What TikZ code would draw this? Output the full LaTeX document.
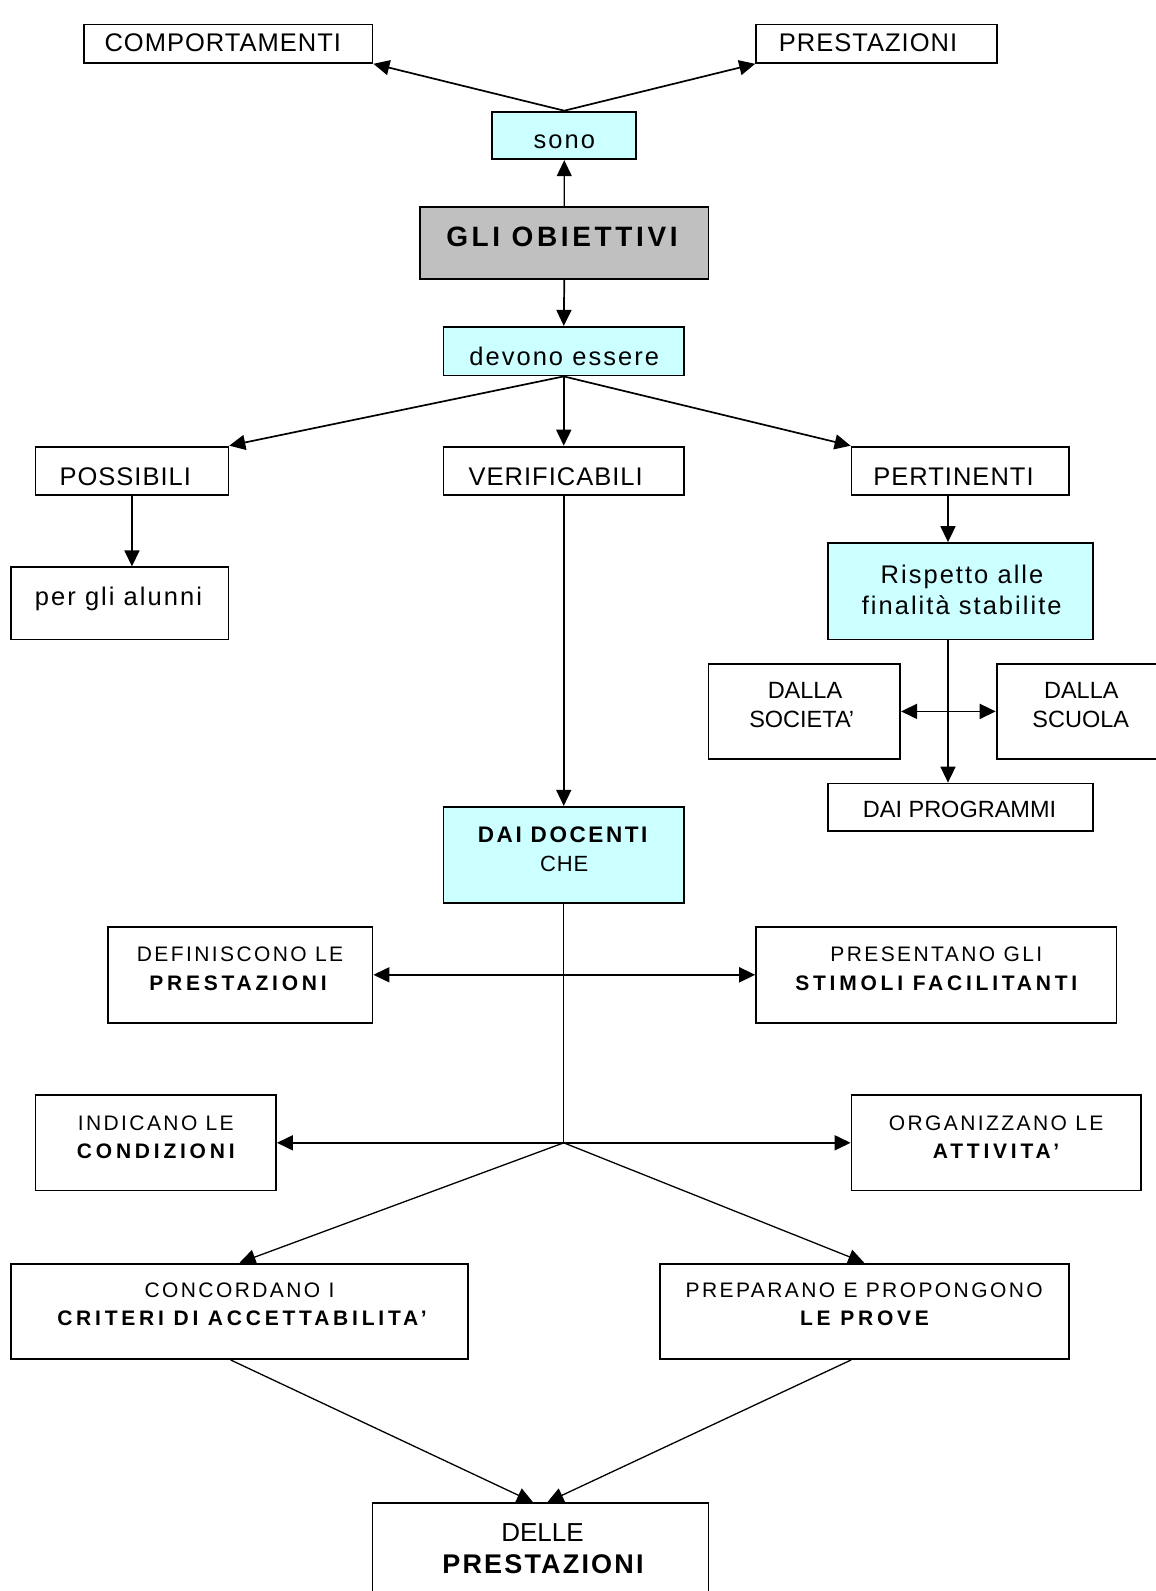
\documentclass[tikz,border=0pt]{standalone}
\usepackage{fontspec}
\setmainfont{Liberation Sans}
\newfontfamily\fcap[LetterSpace=4]{Liberation Sans}
\newfontfamily\flow[LetterSpace=8]{Liberation Sans}
\newfontfamily\fplain{Liberation Sans}
\newfontfamily\fsm[LetterSpace=11.5]{Liberation Sans}
\newfontfamily\fsmb[LetterSpace=18]{Liberation Sans}
\newfontfamily\fbig[LetterSpace=13]{Liberation Sans}
\usetikzlibrary{arrows.meta}
\definecolor{cyanbox}{HTML}{CCFFFF}
\definecolor{graybox}{HTML}{C0C0C0}
\begin{document}
\begin{tikzpicture}[x=1pt,y=-1pt,
  bx/.style={draw=black, line width=1.8pt, fill=white, inner sep=0pt},
  cybx/.style={bx, fill=cyanbox},
  grbx/.style={bx, fill=graybox},
  lbl/.style={anchor=base, inner sep=0pt},
  capA/.style={lbl, font=\fcap\fontsize{25.5}{30}\selectfont},
  lowA/.style={lbl, font=\flow\fontsize{25.5}{30}\selectfont},
  plainB/.style={lbl, font=\fplain\fontsize{23.5}{28}\selectfont},
  smR/.style={lbl, font=\fsm\fontsize{21}{25}\selectfont},
  smB/.style={lbl, font=\fsmb\bfseries\fontsize{21}{25}\selectfont},
  bigB/.style={lbl, font=\fbig\bfseries\fontsize{28}{32}\selectfont},
  docB/.style={lbl, font=\fsm\bfseries\fontsize{22.5}{26}\selectfont},
  docR/.style={lbl, font=\fcap\fontsize{22}{26}\selectfont},
  delR/.style={lbl, font=\fplain\fontsize{26}{30}\selectfont},
  delB/.style={lbl, font=\flow\bfseries\fontsize{27}{31}\selectfont},
  tipA/.tip={Triangle[length=16pt,width=15pt]},
  arr/.style={line width=1.7pt, -tipA},
  thinarr/.style={line width=1.3pt, -tipA},
  dblarr/.style={line width=1.7pt, tipA-tipA},
  trunk/.style={line width=1.3pt}
]
\useasboundingbox (0,0) rectangle (1156,1591);
\fill[white] (0,0) rectangle (1156,1591);
\clip (0,0) rectangle (1156,1591);

% boxes
\node[bx, minimum width=288.3pt, minimum height=38.5pt] (comp) at (228.35,43.65) {};
\node[bx, minimum width=240.5pt, minimum height=38.5pt] (prest) at (876.35,43.65) {};
\node[cybx, minimum width=144.1pt, minimum height=47.7pt] (sono) at (564.25,135.45) {};
\node[grbx, minimum width=288.2pt, minimum height=72.1pt] (gli) at (564.3,243.05) {};
\node[cybx, minimum width=240.5pt, minimum height=48.7pt] (dev) at (563.75,351.15) {};
\node[bx, minimum width=192.9pt, minimum height=48.7pt] (poss) at (131.95,470.95) {};
\node[bx, minimum width=240.5pt, minimum height=48.7pt] (ver) at (563.75,470.95) {};
\node[bx, minimum width=217.2pt, minimum height=48.7pt] (pert) at (960.1,470.95) {};
\node[bx, minimum width=217.2pt, minimum height=72.1pt] (alun) at (119.8,603.35) {};
\node[cybx, minimum width=264.9pt, minimum height=96.4pt] (risp) at (960.65,591.2) {};
\node[bx, minimum width=191.8pt, minimum height=95.4pt] (soc) at (804.3,711.4) {};
\node[bx, minimum width=169pt, minimum height=95.4pt] (scu) at (1081.1,711.4) {};
\node[bx, minimum width=264.9pt, minimum height=47.7pt] (prog) at (960.65,807.35) {};
\node[cybx, minimum width=240.5pt, minimum height=96.5pt] (doc) at (563.75,855.05) {};
\node[bx, minimum width=264.9pt, minimum height=96.4pt] (def) at (240.05,974.8) {};
\node[bx, minimum width=360.3pt, minimum height=96.4pt] (pre) at (936.25,974.8) {};
\node[bx, minimum width=240.5pt, minimum height=95.4pt] (ind) at (155.75,1142.8) {};
\node[bx, minimum width=289.2pt, minimum height=95.4pt] (org) at (996.1,1142.8) {};
\node[bx, minimum width=456.7pt, minimum height=95.4pt] (conc) at (239.55,1311.3) {};
\node[bx, minimum width=409pt, minimum height=95.4pt] (prep) at (864.2,1311.3) {};
\node[bx, minimum width=335.9pt, minimum height=97pt] (del) at (540.45,1551.5) {};

% texts
\node[capA] (tcomp) at (222.8,51.7) {COMPORTAMENTI};
\node[capA] (tprest) at (868,51.7) {PRESTAZIONI};
\node[lowA] (tsono) at (564.3,148) {sono};
\node[bigB] (tgli) at (562,246.7) {GLI OBIETTIVI};
\node[lowA] (tdev) at (564.2,365) {devono essere};
\node[capA] (tposs) at (125.3,485) {POSSIBILI};
\node[capA] (tver) at (555.7,485) {VERIFICABILI};
\node[capA] (tpert) at (953.5,485) {PERTINENTI};
\node[lowA] (talun) at (118.5,605) {per gli alunni};
\node[lowA] (trisp1) at (962,583.3) {Rispetto alle};
\node[lowA] (trisp2) at (961.7,614) {finalità stabilite};
\node[plainB] (tsoc1) at (805,698.3) {DALLA};
\node[plainB] (tsoc2) at (801.7,727.3) {SOCIETA’};
\node[plainB] (tscu1) at (1081.3,698.3) {DALLA};
\node[plainB] (tscu2) at (1080.8,727.3) {SCUOLA};
\node[plainB] (tprog) at (959.5,817.3) {DAI PROGRAMMI};
\node[docB] (tdoc1) at (562.7,842.3) {DAI DOCENTI};
\node[docR] (tdoc2) at (564.2,871) {CHE};
\node[smR] (tdef1) at (240,961.7) {DEFINISCONO LE};
\node[smB] (tdef2) at (238,990) {PRESTAZIONI};
\node[smR] (tpre1) at (936.3,961.7) {PRESENTANO GLI};
\node[smB] (tpre2) at (936.3,990) {STIMOLI FACILITANTI};
\node[smR] (tind1) at (155.8,1130.2) {INDICANO LE};
\node[smB] (tind2) at (155.8,1158.5) {CONDIZIONI};
\node[smR] (torg1) at (996.1,1130.2) {ORGANIZZANO LE};
\node[smB] (torg2) at (996.1,1158.5) {ATTIVITA’};
\node[smR] (tconc1) at (239.5,1297.3) {CONCORDANO I};
\node[smB] (tconc2) at (242,1325.7) {CRITERI DI ACCETTABILITA’};
\node[smR] (tprep1) at (864.2,1297.3) {PREPARANO E PROPONGONO};
\node[smB] (tprep2) at (864.5,1325.7) {LE PROVE};
\node[delR] (tdel1) at (542.5,1541) {DELLE};
\node[delB] (tdel2) at (543,1573.3) {PRESTAZIONI};

% connectors
\draw[arr] (sono.north) -- (comp.south east);
\draw[arr] (sono.north) -- (prest.south west);
\draw[thinarr] (gli.north) -- (sono.south);
\draw[arr] (gli.south) -- (dev.north);
\draw[arr] (dev.south) -- (poss.north east);
\draw[arr] (dev.south) -- (ver.north);
\draw[arr] (dev.south) -- (pert.north west);
\draw[arr] (poss.south) -- (poss.south |- alun.north);
\draw[arr] (ver.south) -- (doc.north);
\coordinate (px) at (948,0);
\draw[arr] (pert.south -| px) -- (risp.north -| px);
\draw[arr] (risp.south -| px) -- (prog.north -| px);
\draw[dblarr] (soc.east) -- (scu.west);
\coordinate (j1) at (doc.south |- def.east);
\coordinate (j2) at (doc.south |- ind.east);
\draw[trunk] (doc.south) -- (j2);
\draw[arr] (j1) -- (def.east);
\draw[arr] (j1) -- (pre.west);
\draw[arr] (j2) -- (ind.east);
\draw[arr] (j2) -- (org.west);
\draw[thinarr] (j2) -- (conc.north);
\draw[thinarr] (j2) -- (prep.north);
\draw[thinarr] ([xshift=-9pt]conc.south) -- ([xshift=-7.5pt]del.north);
\draw[thinarr] ([xshift=-13pt]prep.south) -- ([xshift=7pt]del.north);
\end{tikzpicture}
\end{document}
